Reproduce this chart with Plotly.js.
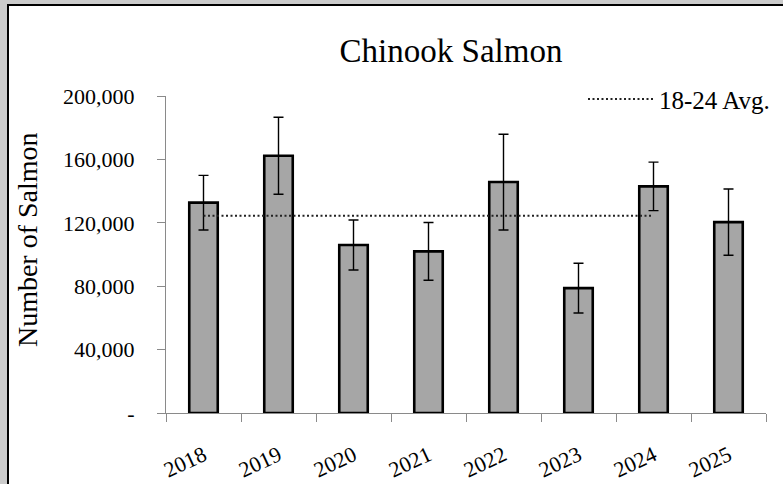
<!DOCTYPE html>
<html>
<head>
<meta charset="utf-8">
<script src="https://cdn.plot.ly/plotly-3.0.1.min.js"></script>
<style>
  html, body { margin: 0; padding: 0; background: #cbcbcb; width: 783px; height: 484px; overflow: hidden; }
  #frame { position: absolute; left: 7px; top: 4px; width: 776px; height: 480px;
           border-left: 2px solid #000; border-top: 2px solid #000; background: #fff; }
  #chart { width: 774px; height: 478px; }
</style>
</head>
<body>
<div id="frame"><div id="chart"></div></div>
<script>
// ---- data ----
const years = ['2018', '2019', '2020', '2021', '2022', '2023', '2024', '2025'];
const salmonCounts = [132700, 162300, 106000, 102000, 145700, 78800, 143000, 120400];
const salmonErrors = [17200, 24300, 15800, 18200, 30200, 15700, 15300, 20900];
const avgYears = ['2018', '2024'];
const avgValues = [124500, 124500];
const avgLabel = '18-24 Avg.';
const yTickVals = [0, 40000, 80000, 120000, 160000, 200000];
const yTickText = ['-', '40,000', '80,000', '120,000', '160,000', '200,000'];
const chartTitle = 'Chinook Salmon';
const yTitle = 'Number of Salmon';

const serif = 'Liberation Serif, Times New Roman, serif';

const bars = {
  type: 'bar',
  x: years,
  y: salmonCounts,
  marker: { color: '#a6a6a6', line: { color: '#000', width: 2.6 } },
  error_y: { type: 'data', array: salmonErrors, visible: true, color: '#000', thickness: 1.4, width: 5 },
  showlegend: false,
  hoverinfo: 'x+y'
};

const avgLine = {
  type: 'scatter',
  mode: 'lines',
  x: avgYears,
  y: avgValues,
  name: avgLabel,
  line: { color: '#222', width: 2, dash: '2px,2.5px' },
  showlegend: true
};

const layout = {
  width: 774,
  height: 478,
  margin: { l: 157, r: 17, t: 90, b: 71, autoexpand: false },
  paper_bgcolor: '#fff',
  plot_bgcolor: '#fff',
  font: { family: serif, color: '#000', size: 22 },
  title: {
    text: chartTitle,
    font: { family: serif, size: 33, color: '#000' },
    xref: 'paper', x: 0.475, xanchor: 'center',
    yref: 'container', y: 0.906, yanchor: 'middle'
  },
  bargap: 0.62,
  showlegend: true,
  legend: {
    x: 0.695, xanchor: 'left', y: 0.99, yanchor: 'middle',
    bgcolor: 'rgba(0,0,0,0)', font: { family: serif, size: 25, color: '#000' },
    itemwidth: 66
  },
  xaxis: {
    type: 'category',
    showline: true, linecolor: '#8a8a8a', linewidth: 1,
    ticks: 'outside', tickson: 'boundaries', ticklen: 8, tickcolor: '#8a8a8a',
    tickangle: -25,
    ticklabelstandoff: 20,
    tickfont: { family: serif, size: 22, color: '#000' },
    showgrid: false, zeroline: false,
    fixedrange: true
  },
  yaxis: {
    range: [0, 200000],
    tickvals: yTickVals,
    ticktext: yTickText,
    showline: true, linecolor: '#8a8a8a', linewidth: 1,
    ticks: 'outside', ticklen: 8, tickcolor: '#8a8a8a',
    ticklabelstandoff: 18,
    tickfont: { family: serif, size: 22, color: '#000' },
    showgrid: false, zeroline: false,
    title: { text: '' },
    fixedrange: true
  },
  annotations: [{
    text: yTitle,
    xref: 'paper', yref: 'paper',
    x: -0.232, xanchor: 'center',
    y: 0.548, yanchor: 'middle',
    textangle: -90,
    showarrow: false,
    font: { family: serif, size: 28, color: '#000' }
  }]
};

Plotly.newPlot('chart', [bars, avgLine], layout, { displayModeBar: false, staticPlot: true });
</script>
</body>
</html>
